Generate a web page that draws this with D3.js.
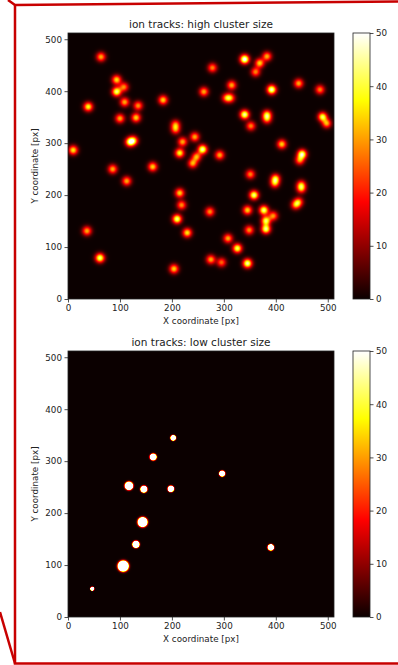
<!DOCTYPE html>
<html><head><meta charset="utf-8">
<script src="https://cdn.jsdelivr.net/npm/d3@7"></script>
<style>
html,body{margin:0;padding:0;background:#fff;}
svg text{font-family:"DejaVu Sans",sans-serif;fill:#222;}
</style></head>
<body>
<svg id="c" width="398" height="665"></svg>
<script>
// ---------- data (image coordinates, 0..512) ----------
const topX = [63.5,93.6,107.7,93.6,39,109,135,100,131,183,119,126,10,207,207,220.5,215,244,259,247.5,240,292,163,86,278,261.5,315,305,313,340,369,383,361,392,444,485,340,383,383,490,498,352,411.5,450.6,446,351,399.4,398,449,449,438,444,358,273,345.5,377,395,381,381,348.7,215,218.6,210,229.5,308,326,275,295.5,345.5,204,36.5,61.5,113];
const topY = [466,422,408,399,370,379,372,347.5,349,383,302,305,286.5,336,326,302.5,281,312,288,273.7,261,277,254.5,250,445,399,411.5,387,387,461.5,454,467,437,403,415,403,355,355,346,350.6,338,333,298,278.8,267,240,232,222.6,220,212,181,187,200,168,171,171,160,150.6,134.6,132.7,204,180.8,154,127.5,116.6,97.5,76,70.5,68.6,58,131,79,227];
const topPeak = [31,35,28,43,38,31,29,31,34,34,38,33,36,26,26,31,38,31,46,31,31,31,34,31,28,31,31,26,26,52,34,31,28,48,31,28,46,34,26,41,31,28,34,46,28,28,34,28,27,27,27,27,44,29,34,44,29,41,44,29,34,29,44,36,31,42,31,26,46,34,31,44,31];
const lowX = [202.5,164,296.7,117.3,146,198,143.6,130.8,106.3,46.7,390.4];
const lowY = [344.8,308,276,252.5,246,246.7,182.7,139.8,98,54.4,134];
const lowSize = [7,8.6,7.5,10.6,8.7,8,12.5,9,14,5,8];
const cbTicks = [0,10,20,30,40,50];
const axTicks = [0,100,200,300,400,500];
const titles = ["ion tracks: high cluster size","ion tracks: low cluster size"];

// ---------- layout ----------
const AX = 68, AW = 266;
const panels = [{top:33},{top:351}];
const CBX = 353, CBW = 17;
const FS = 8.75;

const svg = d3.select("#c");
const x = d3.scaleLinear().domain([0,512]).range([0,AW]);
const y = d3.scaleLinear().domain([0,512]).range([AW,0]);
const color = d3.scaleLinear().domain([0,50*0.365079,50*0.746032,50])
  .range(["#0b0000","#ff0000","#ffff00","#ffffff"]).clamp(true);

const LUT = [];
for(let i=0;i<=1000;i++){ const c=d3.rgb(color(i*0.05)); LUT.push([c.r,c.g,c.b]); }

function render(fn){
  const cv = document.createElement("canvas");
  cv.width=AW; cv.height=AW;
  const ctx = cv.getContext("2d");
  const img = ctx.createImageData(AW,AW);
  for(let j=0;j<AW;j++){
    const dy = y.invert(j+0.5);
    for(let i=0;i<AW;i++){
      const dx = x.invert(i+0.5);
      const v = fn(dx,dy);
      const k = Math.min(1000, Math.max(0, Math.round(v/0.05)));
      const c = LUT[k]; const p=(j*AW+i)*4;
      img.data[p]=c[0]; img.data[p+1]=c[1]; img.data[p+2]=c[2]; img.data[p+3]=255;
    }
  }
  ctx.putImageData(img,0,0);
  return cv.toDataURL();
}
const SIG = 6.1;
const highFn = (px,py)=>{
  let v=0;
  for(let k=0;k<topX.length;k++){
    const ddx=px-topX[k], ddy=py-topY[k];
    const d2=ddx*ddx+ddy*ddy;
    if(d2<1200) v+=topPeak[k]*Math.exp(-d2/(2*SIG*SIG));
  }
  return v;
};
const lowFn = (px,py)=>{
  let v=0;
  for(let k=0;k<lowX.length;k++){
    const ddx=px-lowX[k], ddy=py-lowY[k];
    const d2=ddx*ddx+ddy*ddy;
    const s=lowSize[k]/3.3;
    if(d2<2500) v+=800*Math.exp(-d2/(2*s*s));
  }
  return v;
};
const images = [render(highFn), render(lowFn)];

panels.forEach((p,pi)=>{
  const g = svg.append("g").attr("transform",`translate(${AX},${p.top})`);
  g.append("image").attr("href",images[pi]).attr("x",0).attr("y",0)
    .attr("width",AW).attr("height",AW).attr("preserveAspectRatio","none");
  g.append("rect").attr("width",AW).attr("height",AW).attr("fill","none")
    .attr("stroke","#222").attr("stroke-width",0.8);
  const xa = g.append("g").attr("transform",`translate(0,${AW})`)
    .call(d3.axisBottom(x).tickValues(axTicks).tickSize(3.5).tickPadding(2.5));
  const ya = g.append("g").call(d3.axisLeft(y).tickValues(axTicks).tickSize(3.5).tickPadding(2.5));
  [xa,ya].forEach(a=>{
    a.select(".domain").remove();
    a.selectAll("line").attr("stroke","#222").attr("stroke-width",0.8);
    a.selectAll("text").attr("font-size",FS).attr("font-family","DejaVu Sans").attr("fill","#222");
  });
  g.append("text").attr("x",AW/2).attr("y",AW+25).attr("text-anchor","middle")
    .attr("font-size",FS).text("X coordinate [px]");
  g.append("text").attr("transform",`translate(-30,${AW/2}) rotate(-90)`)
    .attr("text-anchor","middle").attr("font-size",FS).text("Y coordinate [px]");
  g.append("text").attr("x",AW/2).attr("y",-5).attr("text-anchor","middle")
    .attr("font-size",10.5).text(titles[pi]);

  const cb = svg.append("g").attr("transform",`translate(${CBX},${p.top})`);
  const cy = d3.scaleLinear().domain([0,50]).range([AW,0]);
  const gid = "grad"+pi;
  const grad = svg.append("defs").append("linearGradient").attr("id",gid)
    .attr("x1",0).attr("y1",1).attr("x2",0).attr("y2",0);
  color.domain().forEach((d,i)=>{
    grad.append("stop").attr("offset",d/50).attr("stop-color",color.range()[i]);
  });
  cb.append("rect").attr("width",CBW).attr("height",AW).attr("fill",`url(#${gid})`)
    .attr("stroke","#222").attr("stroke-width",0.8);
  const ca = cb.append("g").attr("transform",`translate(${CBW},0)`)
    .call(d3.axisRight(cy).tickValues(cbTicks).tickSize(3.5).tickPadding(2.5));
  ca.select(".domain").remove();
  ca.selectAll("line").attr("stroke","#222").attr("stroke-width",0.8);
  ca.selectAll("text").attr("font-size",FS).attr("font-family","DejaVu Sans").attr("fill","#222");
});

const red = "#c80000";
const frame = svg.append("g").attr("stroke",red).attr("stroke-width",2.5).attr("fill","none");
frame.append("path").attr("d","M8,0 L15,5 L398,1.5");
frame.append("path").attr("d","M15,4 L15,663.5 L398,663.5");
frame.append("path").attr("d","M0,612 L15,663.5");
</script>
</body></html>
